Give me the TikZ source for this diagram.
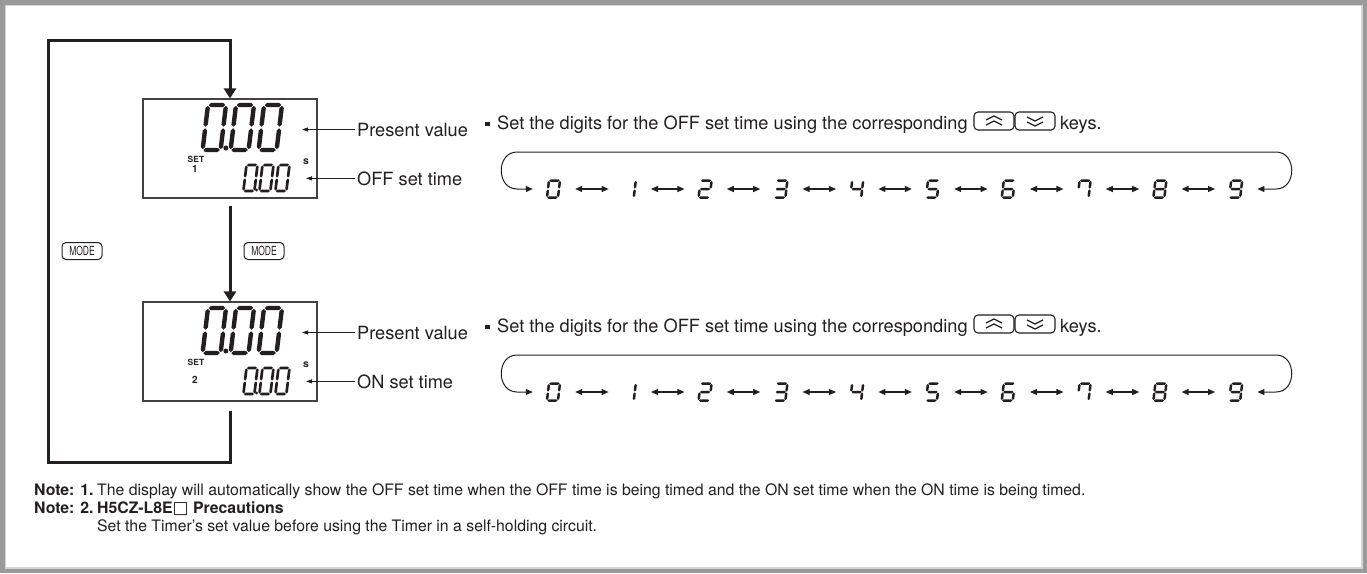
\documentclass[tikz,border=0pt]{standalone}
\usepackage{fontspec}
\setmainfont{TeX Gyre Heros}
\newfontfamily\dejavu{DejaVu Sans}
\usetikzlibrary{arrows.meta}
\definecolor{ink}{HTML}{231F20}
\definecolor{framegray}{HTML}{9A9A9A}
\definecolor{framelight}{HTML}{D4D4D4}

\newcommand\hseg[3]{\fill[ink] ({#1+\sG},#3) -- ({#1+\sG+\sT/2},{#3-\sT/2}) -- ({#2-\sG-\sT/2},{#3-\sT/2}) -- ({#2-\sG},#3) -- ({#2-\sG-\sT/2},{#3+\sT/2}) -- ({#1+\sG+\sT/2},{#3+\sT/2}) -- cycle;}
\newcommand\vseg[3]{\fill[ink] (#1,{#2+\sG}) -- ({#1+\sT/2},{#2+\sG+\sT/2}) -- ({#1+\sT/2},{#3-\sG-\sT/2}) -- (#1,{#3-\sG}) -- ({#1-\sT/2},{#3-\sG-\sT/2}) -- ({#1-\sT/2},{#2+\sG+\sT/2}) -- cycle;}
\pgfkeys{
 /seg/a/.code={\hseg{0}{\dW}{0}},
 /seg/b/.code={\vseg{\dW}{0}{\dH/2}},
 /seg/c/.code={\vseg{\dW}{\dH/2}{\dH}},
 /seg/d/.code={\hseg{0}{\dW}{\dH}},
 /seg/e/.code={\vseg{0}{\dH/2}{\dH}},
 /seg/f/.code={\vseg{0}{0}{\dH/2}},
 /seg/g/.code={\hseg{0}{\dW}{\dH/2}},
}
\newcommand\segdigit[6]{%
 \begin{scope}[shift={(#1,#2)},xslant=0.12]
  \def\dW{#3}\def\dH{#4}\def\sT{#5}\pgfmathsetmacro\sG{0.18*#5}%
  \pgfkeys{/seg/.cd,#6}%
 \end{scope}}
% loop digit: name, cx, cy, segments
\newcommand\loopdigit[4]{%
 \node[digslot] (#1) at (#2,#3) {};
 \segdigit{#2-5}{#3-8.5}{11}{17}{2.5}{#4}}
% LCD contents: prefix, top y, number, number offset
\newcommand\lcd[4]{%
 \segdigit{208}{#2+6}{18}{45}{4.4}{a,b,c,d,e,f}
 \segdigit{236}{#2+6}{18}{45}{4.4}{a,b,c,d,e,f}
 \segdigit{264}{#2+6}{18}{45}{4.4}{a,b,c,d,e,f}
 \fill[ink] (225.8,{#2+49}) circle (2.5);
 \segdigit{246.5}{#2+66}{11}{26}{2.7}{a,b,c,d,e,f}
 \segdigit{262.5}{#2+66}{11}{26}{2.7}{a,b,c,d,e,f}
 \segdigit{278.5}{#2+66}{11}{26}{2.7}{a,b,c,d,e,f}
 \fill[ink] (256.6,{#2+91}) circle (1.6);
 \node[tinyb] (#1set) at (196,{#2+60}) {SET};
 \node[numb] (#1num) at (195,{#2+#4}) {#3};
 \node[unitb] (#1s) at (306,{#2+63}) {s};
}
% digit row: prefix, baseline y of the text line
\newcommand\digitrow[2]{%
 \fill[ink] (485,{#2-7.5}) rectangle (489.5,{#2-3});
 \node[lbl] (#1txt) at (497,#2) {Set the digits for the OFF set time using the corresponding};
 \node[keyicon] (#1up) at (994,{#2-8}) {};
 \node[keyicon] (#1dn) at (1035,{#2-8}) {};
 \draw[chev, shift={(#1up.center)}] (-8,-1) -- (0,-5) -- (8,-1) (-8,4) -- (0,0) -- (8,4);
 \draw[chev, shift={(#1dn.center)}] (-8,-4) -- (0,0) -- (8,-4) (-8,1) -- (0,5) -- (8,1);
 \node[lbl] (#1keys) at (1060,#2) {keys.};
 \loopdigit{#1d0}{554.0}{#2+60}{a,b,c,d,e,f}
 \loopdigit{#1d1}{629.8}{#2+60}{b,c}
 \loopdigit{#1d2}{705.6}{#2+60}{a,b,g,e,d}
 \loopdigit{#1d3}{781.4}{#2+60}{a,b,g,c,d}
 \loopdigit{#1d4}{857.2}{#2+60}{f,g,b,c}
 \loopdigit{#1d5}{933.0}{#2+60}{a,f,g,c,d}
 \loopdigit{#1d6}{1008.8}{#2+60}{a,f,g,e,d,c}
 \loopdigit{#1d7}{1084.6}{#2+60}{a,f,b,c}
 \loopdigit{#1d8}{1160.4}{#2+60}{a,b,c,d,e,f,g}
 \loopdigit{#1d9}{1236.2}{#2+60}{a,b,f,g,c,d}
 \foreach \i [evaluate=\i as \j using int(\i+1)] in {0,...,8}
   \draw[dbl] (#1d\i) -- (#1d\j);
 \draw[loopc] (#1d0.west) -- (517,{#2+60}) .. controls (496,{#2+60}) and (496,{#2+23}) .. (517,{#2+23})
   -- (1276,{#2+23}) .. controls (1297,{#2+23}) and (1297,{#2+60}) .. (1276,{#2+60}) -- (#1d9.east);
}

\begin{document}
\begin{tikzpicture}[x=1pt,y=-1pt,
  loopline/.style={draw=ink, line width=3pt, line join=miter},
  bigarrow/.style={loopline, -{Triangle[length=10pt,width=12pt]}},
  dispbox/.style={draw=ink!85, line width=1.1pt, minimum width=174pt, minimum height=99pt, inner sep=0pt},
  leader/.style={draw=ink, line width=0.9pt, -{Triangle[length=6pt,width=4pt]}},
  lbl/.style={font=\fontsize{18.2}{20}\selectfont, anchor=base west, inner sep=0pt, text=ink},
  note/.style={font=\fontsize{15.8}{18}\selectfont, anchor=base west, inner sep=0pt, text=ink},
  noteb/.style={note, font=\fontsize{15.8}{18}\selectfont\bfseries},
  modekey/.style={draw=ink, rounded corners=4pt, line width=1pt, minimum width=40pt, minimum height=17pt, inner sep=0pt, font=\fontsize{12.5}{12.5}\selectfont, text=ink},
  keyicon/.style={draw=ink, rounded corners=4pt, line width=1.1pt, minimum width=40pt, minimum height=18pt, inner sep=0pt},
  chev/.style={draw=ink, line width=1.3pt},
  digslot/.style={inner sep=0pt, minimum width=42pt, minimum height=17pt},
  dbl/.style={draw=ink, line width=1.1pt, {Triangle[length=7pt,width=6pt]}-{Triangle[length=7pt,width=6pt]}},
  loopc/.style={draw=ink, line width=1pt, {Triangle[length=7pt,width=6pt]}-{Triangle[length=7pt,width=6pt]}},
  tinyb/.style={font=\fontsize{8.5}{8.5}\selectfont\bfseries, inner sep=0pt, text=ink},
  numb/.style={font=\fontsize{10}{10}\selectfont\bfseries, inner sep=0pt, text=ink},
  unitb/.style={font=\fontsize{10.5}{10.5}\selectfont\bfseries, inner sep=0pt, text=ink}
]
\useasboundingbox (0,0) rectangle (1367,573);
\fill[white] (0,0) rectangle (1367,573);
\draw[framegray, line width=4.5pt] (2.25,2.25) rectangle (1364.75,570.75);
\draw[framelight, line width=1.5pt] (5.25,5.25) rectangle (1361.75,567.75);

% displays
\node[dispbox] (d1) at (230,148.5) {};
\node[dispbox] (d2) at (230,351.5) {};
\lcd{a}{99}{1}{70}
\lcd{b}{302}{2}{78}

% main loop
\coordinate (tr) at (230,40);
\coordinate (tl) at (48,40);
\coordinate (bl) at (48,462);
\coordinate (br) at (230,462);
\coordinate (b2) at (230,411);
\coordinate (m1) at (230,206);
\draw[bigarrow] (b2) -- (br) -- (bl) -- (tl) -- (tr) -- (d1.north);
\draw[bigarrow] (m1) -- (d2.north);
\node[modekey] (mode1) at (82,251) {\scalebox{0.68}[1]{MODE}};
\node[modekey] (mode2) at (264,251) {\scalebox{0.68}[1]{MODE}};

% labels and leaders
\node[lbl] (pv1) at (357,136) {Present value};
\node[lbl] (st1) at (357,185) {OFF set time};
\node[lbl] (pv2) at (357,339) {Present value};
\node[lbl] (st2) at (357,388) {ON set time};
\coordinate (pvt1) at (302,130);
\coordinate (stt1) at (306,179);
\coordinate (pvt2) at (302,333);
\coordinate (stt2) at (306,382);
\draw[leader] ([xshift=-2pt]pv1.west) -- (pv1.west -| pvt1);
\draw[leader] ([xshift=-2pt]st1.west) -- (st1.west -| stt1);
\draw[leader] ([xshift=-2pt]pv2.west) -- (pv2.west -| pvt2);
\draw[leader] ([xshift=-2pt]st2.west) -- (st2.west -| stt2);

% digit rows
\digitrow{r}{129}
\digitrow{s}{332}

% notes
\node[noteb] (n1) at (34,495) {Note: 1.};
\node[note] (n1t) at (97,495) {The display will automatically show the OFF set time when the OFF time is being timed and the ON set time when the ON time is being timed.};
\node[noteb] (n2) at (34,513) {Note: 2.};
\node[noteb] (n2t) at (97,513) {H5CZ-L8E{\fontsize{17}{17}\selectfont\mdseries\dejavu\raisebox{-0.5pt}{□}} Precautions};
\node[note] (n3t) at (97,531) {Set the Timer’s set value before using the Timer in a self-holding circuit.};
\end{tikzpicture}
\end{document}
